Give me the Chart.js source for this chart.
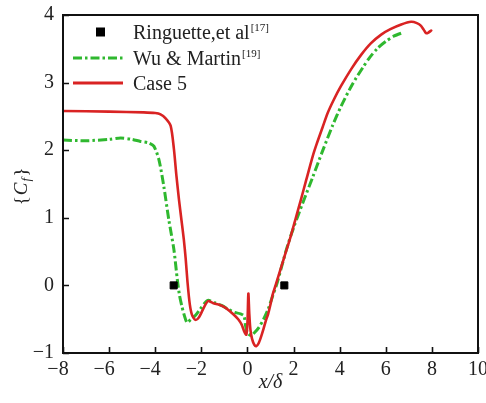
<!DOCTYPE html>
<html>
<head>
<meta charset="utf-8">
<script src="https://cdn.jsdelivr.net/npm/chart.js@4/dist/chart.umd.min.js"></script>
<style>
html,body{margin:0;padding:0;background:#fff;}
canvas{display:block;}
</style>
</head>
<body>
<canvas id="c" width="486" height="403"></canvas>
<script>
// ---- data ----
const xTicks = [-8, -6, -4, -2, 0, 2, 4, 6, 8, 10];
const yTicks = [-1, 0, 1, 2, 3, 4];

const ringuetteX = [-3.2, 1.6];
const ringuetteY = [0, 0];

const case5X = [-8, -6, -4.5, -4.0, -3.77, -3.55, -3.33, -3.19, -3.08, -2.97, -2.86, -2.76, -2.68, -2.6, -2.5, -2.4, -2.25, -2.1, -1.95, -1.8, -1.7, -1.5, -1.2, -1.0, -0.8, -0.6, -0.4, -0.25, -0.14, -0.05, 0.0, 0.04, 0.08, 0.13, 0.2, 0.3, 0.38, 0.48, 0.6, 0.7, 0.8, 0.9, 1.0, 1.1, 1.22, 1.4, 1.6, 1.88, 2.1, 2.32, 2.55, 2.83, 3.0, 3.26, 3.48, 3.75, 4.06, 4.5, 4.93, 5.35, 5.8, 6.2, 6.67, 7.1, 7.35, 7.53, 7.65, 7.75, 7.85, 7.97];
const case5Y = [2.58, 2.57, 2.56, 2.55, 2.53, 2.47, 2.36, 2.02, 1.62, 1.27, 0.96, 0.68, 0.4, 0.05, -0.28, -0.44, -0.51, -0.47, -0.37, -0.27, -0.23, -0.26, -0.29, -0.32, -0.37, -0.43, -0.5, -0.58, -0.68, -0.73, -0.55, -0.12, -0.42, -0.66, -0.79, -0.88, -0.9, -0.86, -0.75, -0.64, -0.52, -0.42, -0.28, -0.13, 0.0, 0.2, 0.42, 0.73, 1.0, 1.27, 1.56, 1.91, 2.09, 2.34, 2.55, 2.75, 2.95, 3.2, 3.41, 3.58, 3.71, 3.79, 3.86, 3.9, 3.88, 3.84, 3.78, 3.73, 3.74, 3.77];

const wuX = [-8, -7, -6, -5.5, -5, -4.64, -4.3, -4.06, -3.84, -3.63, -3.41, -3.19, -3.04, -2.95, -2.85, -2.75, -2.62, -2.45, -2.25, -2.05, -1.85, -1.7, -1.4, -1.1, -0.8, -0.55, -0.3, -0.15, -0.08, 0.0, 0.15, 0.3, 0.5, 0.7, 0.9, 1.1, 1.3, 1.5, 1.75, 2.03, 2.4, 2.83, 3.26, 3.7, 4.06, 4.56, 5.0, 5.3, 5.65, 6.0, 6.37, 6.74];
const wuY = [2.15, 2.14, 2.16, 2.18, 2.16, 2.13, 2.11, 2.06, 1.86, 1.47, 0.97, 0.53, 0.08, -0.14, -0.3, -0.43, -0.55, -0.5, -0.44, -0.35, -0.26, -0.22, -0.26, -0.3, -0.36, -0.4, -0.42, -0.45, -0.6, -0.7, -0.74, -0.7, -0.62, -0.5, -0.35, -0.15, 0.05, 0.3, 0.6, 0.88, 1.22, 1.6, 1.99, 2.37, 2.65, 2.98, 3.22, 3.37, 3.51, 3.61, 3.69, 3.74];

const legendLabels = ["Ringuette,et al", "Wu & Martin", "Case 5"];
const legendRefs = ["[17]", "[19]", ""];
const xTitle = "x/δ";

const RED = '#d92323';
const GREEN = '#2fb82f';
const FONT = "'Liberation Serif', 'Times New Roman', serif";

const pts = (xs, ys) => xs.map((x, i) => ({x: x, y: ys[i]}));

// inward tick marks + frame
const frameTicks = {
  id: 'frameTicks',
  afterDraw(chart) {
    const {ctx, chartArea: a, scales: {x, y}} = chart;
    ctx.save();
    ctx.strokeStyle = '#111';
    ctx.lineWidth = 2;
    ctx.strokeRect(a.left, a.top, a.right - a.left, a.bottom - a.top);
    ctx.lineWidth = 1.6;
    ctx.beginPath();
    xTicks.forEach(v => {
      const p = Math.round(x.getPixelForValue(v)) + 0.5;
      ctx.moveTo(p, a.bottom); ctx.lineTo(p, a.bottom - 6);
    });
    yTicks.forEach(v => {
      const p = Math.round(y.getPixelForValue(v)) + 0.5;
      ctx.moveTo(a.left, p); ctx.lineTo(a.left + 6, p);
    });
    ctx.stroke();
    ctx.restore();
  }
};

// y title {C_f} and legend with superscripts
const texts = {
  id: 'texts',
  afterDraw(chart) {
    const {ctx, chartArea: a} = chart;
    ctx.save();
    ctx.translate(22, (a.top + a.bottom) / 2 + 2);
    ctx.rotate(-Math.PI / 2);
    ctx.fillStyle = '#222';
    ctx.textBaseline = 'middle';
    ctx.textAlign = 'left';
    const parts = [
      {t: '{', f: `19px ${FONT}`, dy: 0},
      {t: 'C', f: `italic 19px ${FONT}`, dy: 0},
      {t: 'f', f: `italic 13px ${FONT}`, dy: 5},
      {t: '}', f: `19px ${FONT}`, dy: 0}
    ];
    let w = 0;
    parts.forEach(p => { ctx.font = p.f; w += ctx.measureText(p.t).width + 1; });
    let cx = -w / 2;
    parts.forEach(p => { ctx.font = p.f; ctx.fillText(p.t, cx, p.dy); cx += ctx.measureText(p.t).width + 1; });
    ctx.restore();

    ctx.save();
    const rows = [32, 58, 83];
    const x0 = 73, x1 = 123, tx = 133;
    ctx.fillStyle = '#000';
    ctx.fillRect(96, rows[0] - 4.5, 9, 9);
    ctx.strokeStyle = GREEN; ctx.lineWidth = 3; ctx.setLineDash([9, 3, 2.5, 3]);
    ctx.beginPath(); ctx.moveTo(x0, rows[1]); ctx.lineTo(x1, rows[1]); ctx.stroke();
    ctx.setLineDash([]);
    ctx.strokeStyle = RED; ctx.lineWidth = 2.8;
    ctx.beginPath(); ctx.moveTo(x0, rows[2]); ctx.lineTo(x1, rows[2]); ctx.stroke();
    ctx.fillStyle = '#222';
    ctx.textBaseline = 'alphabetic';
    legendLabels.forEach((lab, i) => {
      ctx.font = `20px ${FONT}`;
      ctx.fillText(lab, tx, rows[i] + 7);
      const w2 = ctx.measureText(lab).width;
      if (legendRefs[i]) {
        ctx.font = `11px ${FONT}`;
        ctx.fillText(legendRefs[i], tx + w2 + 1, rows[i] - 1);
      }
    });
    ctx.restore();
  }
};

new Chart(document.getElementById('c'), {
  type: 'scatter',
  data: {
    datasets: [
      {
        label: legendLabels[0],
        data: pts(ringuetteX, ringuetteY),
        pointStyle: 'rect', pointRadius: 5, pointBackgroundColor: '#000', pointBorderColor: '#000',
        showLine: false
      },
      {
        label: legendLabels[2],
        data: pts(case5X, case5Y),
        showLine: true, borderColor: RED, borderWidth: 2.6, pointRadius: 0,
        tension: 0.25, borderCapStyle: 'round', borderJoinStyle: 'round'
      },
      {
        label: legendLabels[1],
        data: pts(wuX, wuY),
        showLine: true, borderColor: GREEN, borderWidth: 3, pointRadius: 0,
        borderDash: [9, 3, 2.5, 3], tension: 0.25
      }
    ]
  },
  options: {
    responsive: false,
    animation: false,
    layout: {padding: {top: 15, right: 8, left: 0, bottom: 0}},
    plugins: {legend: {display: false}, tooltip: {enabled: false}},
    scales: {
      x: {
        type: 'linear', min: -8, max: 10,
        afterBuildTicks: s => { s.ticks = xTicks.map(v => ({value: v})); },
        afterFit: s => { s.height = 50; s.paddingLeft = 0; s.paddingRight = 0; },
        grid: {display: false, drawTicks: false},
        border: {display: false},
        ticks: {
          padding: 5, color: '#222', maxRotation: 0, autoSkip: false,
          font: {family: FONT, size: 20},
          callback: v => v < 0 ? '\u2212' + Math.abs(v) + '\u2002' : String(v)
        },
        title: {
          display: true, text: xTitle, color: '#222',
          font: {family: FONT, size: 20, style: 'italic'},
          padding: {top: 0, bottom: 8}
        }
      },
      y: {
        type: 'linear', min: -1, max: 4,
        afterBuildTicks: s => { s.ticks = yTicks.map(v => ({value: v})); },
        afterFit: s => { s.width = 63; s.paddingTop = 0; s.paddingBottom = 0; },
        grid: {display: false, drawTicks: false},
        border: {display: false},
        ticks: {
          padding: 9, color: '#222', autoSkip: false,
          font: {family: FONT, size: 20},
          callback: v => v < 0 ? '\u2212' + Math.abs(v) : String(v)
        }
      }
    }
  },
  plugins: [frameTicks, texts]
});
</script>
</body>
</html>
